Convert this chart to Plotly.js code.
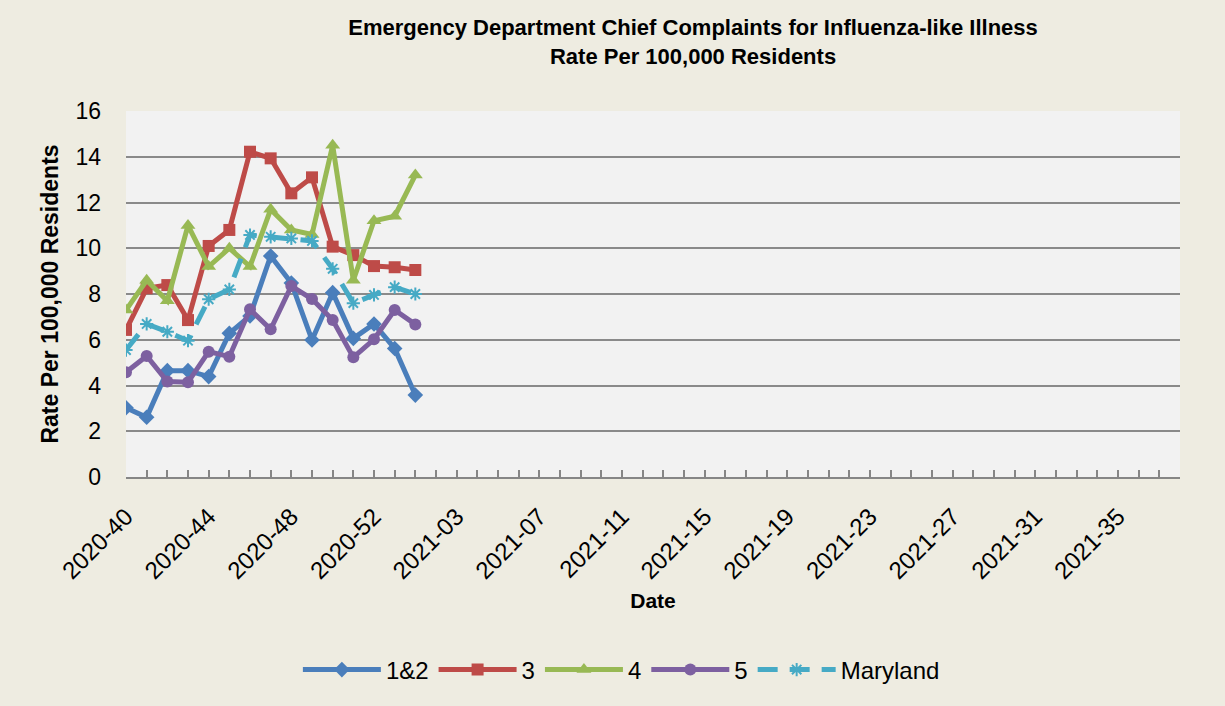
<!DOCTYPE html>
<html>
<head>
<meta charset="utf-8">
<script src="https://cdn.plot.ly/plotly-3.0.1.min.js"></script>
<style>
html,body{margin:0;padding:0;background:#EEECE1;}
#chart{width:1225px;height:706px;}
</style>
</head>
<body>
<div id="chart"></div>
<script>
// Weeks (categories) 2020-40 .. 2021-38
const weeks = [
  "2020-40","2020-41","2020-42","2020-43","2020-44","2020-45","2020-46","2020-47","2020-48","2020-49",
  "2020-50","2020-51","2020-52","2020-53","2021-01","2021-02","2021-03","2021-04","2021-05","2021-06",
  "2021-07","2021-08","2021-09","2021-10","2021-11","2021-12","2021-13","2021-14","2021-15","2021-16",
  "2021-17","2021-18","2021-19","2021-20","2021-21","2021-22","2021-23","2021-24","2021-25","2021-26",
  "2021-27","2021-28","2021-29","2021-30","2021-31","2021-32","2021-33","2021-34","2021-35","2021-36",
  "2021-37","2021-38"
];
const labelledWeeks = ["2020-40","2020-44","2020-48","2020-52","2021-03","2021-07","2021-11","2021-15","2021-19","2021-23","2021-27","2021-31","2021-35"];

const seriesNames = ["1&2","3","4","5","Maryland"];
const region12 = [3.03, 2.61, 4.65, 4.65, 4.39, 6.28, 7.04, 9.66, 8.48, 5.99, 8.06, 6.06, 6.69, 5.62, 3.58];
const region3  = [6.43, 8.25, 8.39, 6.86, 10.1, 10.8, 14.22, 13.93, 12.40, 13.10, 10.07, 9.70, 9.22, 9.17, 9.05];
const region4  = [7.3, 8.6, 7.7, 11.0, 9.2, 10.0, 9.2, 11.7, 10.8, 10.6, 14.5, 8.6, 11.2, 11.4, 13.2];
const region5  = [4.58, 5.29, 4.17, 4.14, 5.48, 5.26, 7.33, 6.46, 8.35, 7.78, 6.86, 5.23, 6.02, 7.30, 6.67];
const maryland = [5.55, 6.69, 6.35, 5.96, 7.77, 8.2, 10.58, 10.5, 10.43, 10.32, 9.1, 7.6, 7.96, 8.3, 8.0];

const seriesValues = [region12, region3, region4, region5, maryland];
const colors = ["#4A7EBB","#BE4B48","#98B954","#7D60A0","#46AAC5"];
const symbols = ["diamond","square","triangle-up","circle","asterisk-open"];
const msizes = [12,12,13,12,11];

const traces = seriesValues.map((vals, i) => ({
  type: "scatter",
  mode: "lines+markers",
  name: seriesNames[i],
  x: weeks.slice(0, vals.length),
  y: vals,
  line: {color: colors[i], width: 5, dash: i === 4 ? "20px,12px" : "solid"},
  marker: {symbol: symbols[i], size: msizes[i], color: colors[i], line: {color: colors[i], width: i === 4 ? 2 : 0}}
}));

const layout = {
  width: 1225, height: 706,
  paper_bgcolor: "#EEECE1",
  plot_bgcolor: "#F2F2F2",
  margin: {l: 126, r: 45, t: 111, b: 229},
  showlegend: true,
  title: {
    text: "Emergency Department Chief Complaints for Influenza-like Illness<br>Rate Per 100,000 Residents",
    font: {family: "Liberation Sans", size: 22, color: "#000000", weight: "bold"},
    x: 0.538, xanchor: "center", xref: "paper",
    y: 0.95, yanchor: "top", yref: "container"
  },
  xaxis: {
    type: "category",
    categoryorder: "array",
    categoryarray: weeks,
    range: [0, weeks.length - 1],
    tickmode: "array",
    tickvals: weeks,
    ticktext: weeks.map(w => labelledWeeks.includes(w) ? w : ""),
    tickangle: -45,
    ticks: "inside", ticklen: 7, tickwidth: 2, tickcolor: "#868686",
    showline: true, linecolor: "#868686", linewidth: 2,
    showgrid: false, zeroline: false,
    ticklabelstandoff: 14,
    tickfont: {family: "Liberation Sans", size: 24, color: "#000000"},
    title: {text: "Date", font: {family: "Liberation Sans", size: 21, color: "#000000", weight: "bold"}, standoff: 10},
    automargin: false
  },
  yaxis: {
    range: [0, 16],
    dtick: 2,
    showgrid: true, gridcolor: "#8A8A8A", gridwidth: 2,
    zeroline: false, showline: false, ticks: "",
    ticklabelstandoff: 24,
    tickfont: {family: "Liberation Sans", size: 23, color: "#000000"},
    title: {text: "Rate Per 100,000 Residents", font: {family: "Liberation Sans", size: 23, color: "#000000", weight: "bold"}, standoff: 10},
    automargin: false
  },
  legend: {
    orientation: "h",
    x: 0.47, xanchor: "center", xref: "paper",
    y: 0.051, yanchor: "middle", yref: "container",
    font: {family: "Liberation Sans", size: 24, color: "#000000"},
    itemwidth: 78,
    bgcolor: "rgba(0,0,0,0)"
  }
};

Plotly.newPlot("chart", traces, layout, {displayModeBar: false, staticPlot: true});
</script>
</body>
</html>
